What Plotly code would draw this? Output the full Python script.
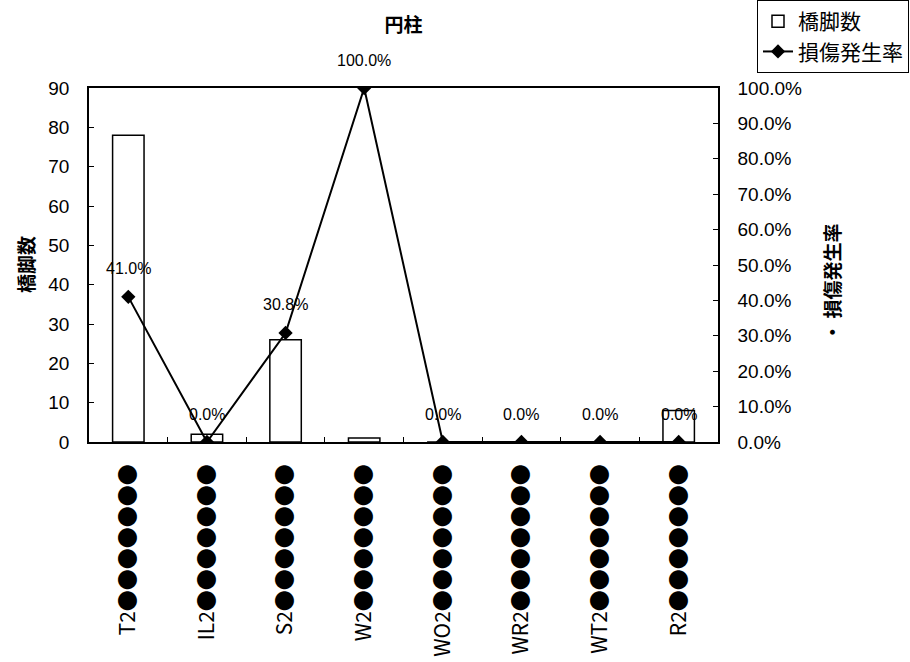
import plotly.graph_objects as go

# Pier type categories (label text as printed under each column)
categories = ["T2", "IL2", "S2", "W2", "WO2", "WR2", "WT2", "R2"]
tick_labels = [c + "●●●●●●●" for c in categories]

# Number of piers per type
pier_counts = [78, 2, 26, 1, 0, 0, 0, 8]

# Damage occurrence rate per type (fraction)
damage_rate = [0.410, 0.0, 0.308, 1.0, 0.0, 0.0, 0.0, 0.0]

LATIN = "Liberation Sans, Arial, sans-serif"
CJK = "Noto Sans CJK JP, sans-serif"

fig = go.Figure()

fig.add_trace(go.Bar(
    x=categories,
    y=pier_counts,
    name="橋脚数",
    width=0.4,
    marker=dict(color="white", line=dict(color="black", width=1.5)),
    yaxis="y",
))

fig.add_trace(go.Scatter(
    x=categories,
    y=damage_rate,
    name="損傷発生率",
    mode="lines+markers",
    line=dict(color="black", width=2),
    marker=dict(symbol="diamond", size=11, color="black"),
    yaxis="y2",
))

# Percentage labels above each rate marker
annotations = []
for cat, r in zip(categories, damage_rate):
    annotations.append(dict(
        x=cat, y=r, xref="x", yref="y2",
        text=f"{r * 100:.1f}%",
        showarrow=False, yshift=28,
        font=dict(family=LATIN, size=16, color="black"),
    ))

# Axis titles
annotations.append(dict(
    x=0, y=0.5, xref="paper", yref="paper", xshift=-64,
    xanchor="center", yanchor="middle",
    text="<b>橋脚数</b>", textangle=-90, showarrow=False,
    font=dict(family=CJK, size=19, color="black"),
))
annotations.append(dict(
    x=1, y=0.45, xref="paper", yref="paper", xshift=114,
    xanchor="center", yanchor="middle",
    text="<b>・ 損傷発生率</b>", textangle=-90, showarrow=False,
    font=dict(family=CJK, size=19, color="black"),
))

fig.update_layout(
    width=910, height=662,
    margin=dict(l=89, r=192, t=88, b=220, autoexpand=False),
    paper_bgcolor="white", plot_bgcolor="white",
    title=dict(
        text="<b>円柱</b>", x=0.5, xref="paper", xanchor="center",
        y=1 - 25 / 662, yref="container", yanchor="middle",
        font=dict(family=CJK, size=19, color="black"),
    ),
    showlegend=True,
    legend=dict(
        x=1.062, y=1.2486, xanchor="left", yanchor="top",
        xref="paper", yref="paper",
        bgcolor="white", bordercolor="black", borderwidth=1,
        font=dict(family=CJK, size=21, color="black"),
        tracegroupgap=0,
    ),
    xaxis=dict(
        type="category", automargin=False,
        tickmode="array", tickvals=categories, ticktext=tick_labels,
        tickangle=-90, tickson="boundaries",
        ticks="inside", ticklen=5, tickcolor="black",
        ticklabelstandoff=12,
        showline=True, linecolor="black", linewidth=1.5, mirror=True,
        showgrid=False,
        tickfont=dict(family=CJK, size=21, color="black"),
    ),
    yaxis=dict(
        range=[0, 90], dtick=10, automargin=False,
        ticks="inside", ticklen=5, tickcolor="black",
        ticklabelstandoff=14,
        showline=True, linecolor="black", linewidth=1.5,
        showgrid=False, zeroline=False,
        tickfont=dict(family=LATIN, size=19, color="black"),
    ),
    yaxis2=dict(
        overlaying="y", side="right", automargin=False,
        range=[0, 1], dtick=0.1, tickformat=".1%",
        ticks="inside", ticklen=5, tickcolor="black",
        ticklabelstandoff=14,
        showline=True, linecolor="black", linewidth=1.5,
        showgrid=False, zeroline=False,
        tickfont=dict(family=LATIN, size=19, color="black"),
    ),
    annotations=annotations,
)

fig.write_html("out.html")
